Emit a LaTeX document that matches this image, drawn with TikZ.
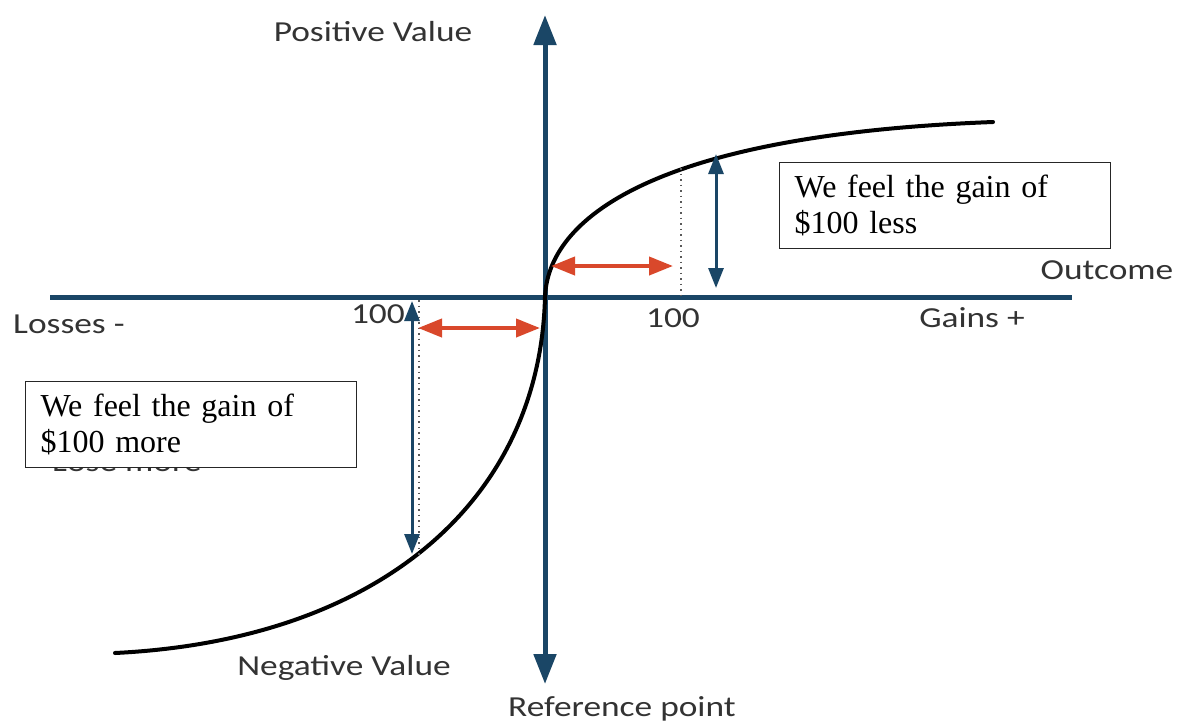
\documentclass[tikz,border=0pt]{standalone}
\usepackage{fontspec}
\setmainfont{Liberation Serif}
\newfontfamily\labfont{Carlito}
\usetikzlibrary{arrows.meta}
\definecolor{axisblue}{HTML}{1A4666}
\definecolor{arrred}{HTML}{D9482B}
\newcommand\widetxt[1]{\scalebox{1.22}[1]{#1}}
\begin{document}
\begin{tikzpicture}[x=1pt,y=-1pt,
  axisline/.style={draw=axisblue,line width=5pt},
  bigtip/.style={{Triangle[length=30pt,width=22pt]}-{Triangle[length=30pt,width=22pt]}},
  bluedbl/.style={draw=axisblue,line width=3pt,{Triangle[length=20pt,width=15pt]}-{Triangle[length=20pt,width=15pt]}},
  reddbl/.style={draw=arrred,line width=4pt,{Triangle[length=24pt,width=18pt]}-{Triangle[length=24pt,width=18pt]}},
  dotline/.style={draw=black!65,line width=1.8pt,dash pattern=on 1.5pt off 4pt},
  curveline/.style={draw=black,line width=4pt},
  lab/.style={font=\labfont\fontsize{29}{33}\selectfont,text=black!80,inner sep=0pt},
  msgbox/.style={draw=black!85,line width=1.2pt,fill=white,anchor=north west,
    minimum width=331pt,minimum height=86pt,text width=301pt,inner xsep=15pt,align=left,
    font=\fontsize{32}{36}\selectfont}
]
\useasboundingbox (0,0) rectangle (1186,724);
% axes
\coordinate (xl) at (50,297);
\coordinate (xr) at (1072,297);
\coordinate (yt) at (545,15);
\coordinate (yb) at (545,684);
\coordinate (O) at (545,297);
\draw[axisline] (xl) -- (xr);
\draw[axisline,bigtip] (yb) -- (yt);
% curve
\coordinate (cl) at (115,653);
\coordinate (cr) at (993,122);
\draw[curveline,line cap=round] (cl) .. controls (380,640) and (540,500) .. (O)
   .. controls (548,220) and (650,135) .. (cr);
% dotted verticals
\coordinate (dlt) at (419,300);
\coordinate (dlb) at (419,557);
\coordinate (drt) at (681,168);
\coordinate (drb) at (681,295);
\draw[dotline] (dlt) -- (dlb);
\draw[dotline] (drt) -- (drb);
% blue double arrows
\coordinate (blt) at (412,301);
\coordinate (blb) at (412,554);
\coordinate (brt) at (716,154);
\coordinate (brb) at (716,288);
\draw[bluedbl] (blt) -- (blb);
\draw[bluedbl] (brt) -- (brb);
% red double arrows
\coordinate (rul) at (551,266);
\coordinate (rur) at (673,266);
\coordinate (rll) at (418,328);
\coordinate (rlr) at (540,328);
\draw[reddbl] (rul) -- (rur);
\draw[reddbl] (rll) -- (rlr);
% labels
\node[lab] (pv) at (373,32) {\widetxt{Positive Value}};
\node[lab] (nv) at (344,668) {\widetxt{Negative Value}};
\node[lab,anchor=base west] (rp) at (508,716) {\widetxt{Reference point}};
\node[lab,anchor=base] (oc) at (1107,279) {\widetxt{Outcome}};
\node[lab,anchor=base west] (ls) at (13,333) {\widetxt{Losses -}};
\node[lab,anchor=base] (gn) at (972,327) {\widetxt{Gains +}};
\node[lab,anchor=base east] (h1) at (405,323) {\widetxt{100}};
\node[lab,anchor=base] (h2) at (673,327) {\widetxt{100}};
\node[lab,anchor=base west] (lm) at (52,471) {\widetxt{Lose more}};
% boxes
\node[msgbox] (bl) at (25,381) {We feel the gain of\\\$100 more};
\node[msgbox] (br) at (779,162) {We feel the gain of\\\$100 less};
\end{tikzpicture}
\end{document}
